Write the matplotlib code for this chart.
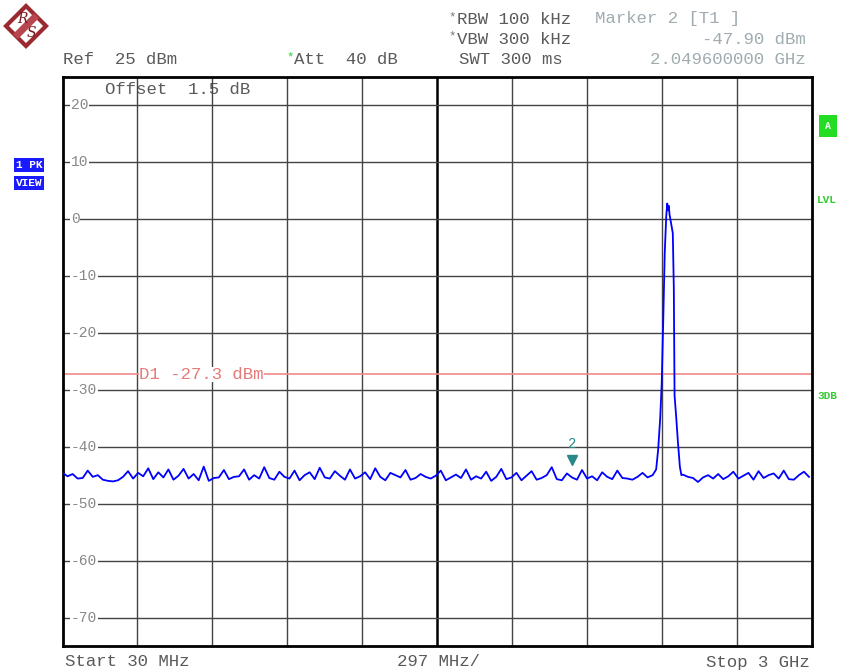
import numpy as np
import matplotlib
matplotlib.use("Agg")
import matplotlib.pyplot as plt
from matplotlib.patches import Polygon

# sweep settings (MHz) and levels (dBm)
f_start, f_stop, f_step = 30, 3000, 20
ref_level, db_div = 25, 10
y_ticks = [20, 10, 0, -10, -20, -30, -40, -50, -60, -70]
d1_level = -27.3
marker_freq = 2049.6
marker_level = -42.3

# noise floor below the carrier, one value every 20 MHz from 30 MHz
noise_lo = [-44.6, -45.2, -44.8, -45.6, -45.5, -44.2, -45.3, -45.0, -45.8, -46.0,
            -46.1, -45.9, -45.3, -44.3, -45.6, -44.6, -45.2, -43.8, -45.7, -44.5,
            -45.4, -44.0, -45.8, -45.1, -43.9, -45.6, -44.8, -45.9, -43.5, -46.0,
            -45.5, -45.4, -44.1, -45.7, -45.3, -45.2, -44.0, -45.8, -45.0, -45.6,
            -43.6, -45.5, -45.8, -44.4, -45.3, -45.6, -44.2, -45.9, -45.0, -44.5,
            -45.7, -43.7, -45.4, -45.6, -44.3, -45.1, -45.8, -44.0, -45.6, -45.2,
            -44.5, -45.7, -43.8, -45.3, -45.9, -44.6, -45.0, -45.4, -44.1, -45.8,
            -45.5, -44.8, -45.3, -45.6, -45.1, -44.2, -45.9, -45.4, -44.9, -45.5,
            -44.0, -45.8, -45.2, -45.6, -44.4, -46.0, -45.3, -43.9, -45.7, -45.4,
            -44.6, -45.9, -45.1, -44.3, -45.8, -45.5, -45.0, -43.6, -45.7, -45.9,
            -44.7, -45.4, -45.8, -44.1, -45.6, -45.2, -45.9, -44.5, -45.3, -45.7,
            -44.2, -45.5, -45.6, -45.8, -45.3, -44.6, -45.4, -45.0]

# the carrier around 2.43 GHz
peak_f = [2384, 2392, 2400, 2406, 2412, 2418, 2424, 2428, 2431, 2434,
          2437, 2442, 2450, 2454, 2457, 2463, 2470, 2478, 2484]
peak_db = [-44.0, -40.5, -35.0, -29.0, -18.0, -6.0, 0.5, 2.7, 1.5, 2.3,
           0.8, -0.5, -2.5, -12.0, -31.0, -34.5, -39.0, -43.5, -45.0]

# noise floor above the carrier, every 20 MHz from 2490 MHz
noise_hi = [-44.9, -45.3, -45.5, -46.2, -45.4, -45.0, -45.6, -44.8, -45.7, -45.2,
            -44.4, -45.6, -45.1, -44.6, -45.8, -44.3, -45.5, -45.0, -44.7, -45.6,
            -44.2, -45.7, -45.8, -45.0, -44.4, -45.3]

f_lo = f_start + f_step * np.arange(len(noise_lo))
f_hi = 2490 + f_step * np.arange(len(noise_hi))
freq = np.concatenate([f_lo, peak_f, f_hi])
level = np.concatenate([noise_lo, peak_db, noise_hi])

W, H = 843, 672
fig = plt.figure(figsize=(W / 100, H / 100), dpi=100)
fig.patch.set_facecolor("white")

def pos(x, y):
    return x / W, 1 - y / H

ax = fig.add_axes([62.5 / W, 1 - 646 / H, 749 / W, 569.5 / H])
ax.set_xlim(f_start, f_stop)
ax.set_ylim(ref_level - 10 * db_div, ref_level)
ax.set_xticks([])
ax.set_yticks([])
for s in ax.spines.values():
    s.set_linewidth(2.0)
    s.set_color("black")

mono = "Liberation Mono"
grey = "#5a5a5a"
fs = 12.5

# graticule
span = (f_stop - f_start) / 10
for i in range(1, 10):
    fx = f_start + i * span
    ax.axvline(fx, color="black" if i == 5 else "#444444",
               lw=1.8 if i == 5 else 1.0, zorder=1)
for v in y_ticks:
    ax.axhline(v, color="#444444", lw=1.0, zorder=1)
    ax.text(0.0113, v, str(v), transform=ax.get_yaxis_transform(),
            ha="left", va="center", fontsize=10.5, family=mono, color="#888888",
            zorder=2, bbox=dict(facecolor="white", edgecolor="none", pad=0.5))

# display line D1
ax.axhline(d1_level, color="#f08a8a", lw=1.2, zorder=2)
ax.text(f_start + span + 8, d1_level, "D1 -27.3 dBm", ha="left", va="center",
        fontsize=fs, family=mono, color="#e57a7a", zorder=3,
        bbox=dict(facecolor="white", edgecolor="none", pad=0.3))

# trace
ax.plot(freq, level, color="#0000ff", lw=1.3, zorder=4)

# marker 2
ax.plot([marker_freq], [marker_level], marker="v", color="#2a8888",
        markersize=7, zorder=5)
ax.text(marker_freq, marker_level + 2.7, "2", ha="center", va="center",
        fontsize=10, family=mono, color="#2a8888", zorder=5)

ax.text((105 - 62.5) / 749, 1 - (89 - 76.5) / 569.5, "Offset  1.5 dB",
        transform=ax.transAxes, ha="left", va="center", fontsize=fs,
        family=mono, color=grey, zorder=0.5)

# header
fig.text(*pos(63, 59), "Ref  25 dBm", ha="left", va="center", fontsize=fs,
         family=mono, color=grey)
fig.text(*pos(286, 57), "*", ha="left", va="center", fontsize=9,
         family=mono, color="#33cc33")
fig.text(*pos(294, 59), "Att  40 dB", ha="left", va="center", fontsize=fs,
         family=mono, color=grey)
fig.text(*pos(448, 17), "*", ha="left", va="center", fontsize=9,
         family=mono, color="#777777")
fig.text(*pos(457, 19), "RBW 100 kHz", ha="left", va="center", fontsize=fs,
         family=mono, color=grey)
fig.text(*pos(448, 36), "*", ha="left", va="center", fontsize=9,
         family=mono, color="#777777")
fig.text(*pos(457, 39), "VBW 300 kHz", ha="left", va="center", fontsize=fs,
         family=mono, color=grey)
fig.text(*pos(459, 59), "SWT 300 ms", ha="left", va="center", fontsize=fs,
         family=mono, color=grey)
fig.text(*pos(595, 19), "Marker 2 [T1 ]", ha="left", va="center", fontsize=fs,
         family=mono, color="#a0acb0")
fig.text(*pos(806, 39), "-47.90 dBm", ha="right", va="center", fontsize=fs,
         family=mono, color="#a0acb0")
fig.text(*pos(806, 59), "2.049600000 GHz", ha="right", va="center", fontsize=fs,
         family=mono, color="#a0acb0")

# footer
fig.text(*pos(65, 662), "Start 30 MHz", ha="left", va="center", fontsize=fs,
         family=mono, color=grey)
fig.text(*pos(397, 662), "297 MHz/", ha="left", va="center", fontsize=fs,
         family=mono, color=grey)
fig.text(*pos(810, 662), "Stop 3 GHz", ha="right", va="center", fontsize=fs,
         family=mono, color=grey)

# side labels
fig.text(*pos(29, 165), "1 PK", ha="center", va="center", fontsize=8,
         family=mono, weight="bold", color="white",
         bbox=dict(facecolor="#1a1aff", edgecolor="none", pad=1.5))
fig.text(*pos(29, 183), "VIEW", ha="center", va="center", fontsize=8,
         family=mono, weight="bold", color="white",
         bbox=dict(facecolor="#1a1aff", edgecolor="none", pad=1.5))
fig.text(*pos(828, 126), "A", ha="center", va="center", fontsize=7,
         family=mono, weight="bold", color="white",
         bbox=dict(facecolor="#22dd22", edgecolor="none",
                   boxstyle="square,pad=0.6"))
fig.text(*pos(817, 200), "LVL", ha="left", va="center", fontsize=8,
         family=mono, weight="bold", color="#33cc33")
fig.text(*pos(817, 396), "3DB", ha="left", va="center", fontsize=8,
         family=mono, weight="bold", color="#33cc33")

# R&S logo
cx, cy, r = 26, 26, 20
diamond = Polygon([pos(cx, cy - r), pos(cx + r, cy), pos(cx, cy + r), pos(cx - r, cy)],
                  closed=True, transform=fig.transFigure, facecolor="white",
                  edgecolor="#9a2a30", lw=3)
fig.patches.append(diamond)
band = Polygon([pos(cx + 8, cy - 13), pos(cx + 13, cy - 8), pos(cx - 8, cy + 13),
                pos(cx - 13, cy + 8)], closed=True, transform=fig.transFigure,
               facecolor="#b8464e", edgecolor="none")
fig.patches.append(band)
fig.text(*pos(cx - 4, cy - 7), "R", ha="center", va="center", fontsize=10,
         family="DejaVu Serif", style="italic", color="#7a1a20")
fig.text(*pos(cx + 5, cy + 7), "S", ha="center", va="center", fontsize=10,
         family="DejaVu Serif", style="italic", color="#7a1a20")

fig.savefig("out.png", dpi=100, facecolor="white")
